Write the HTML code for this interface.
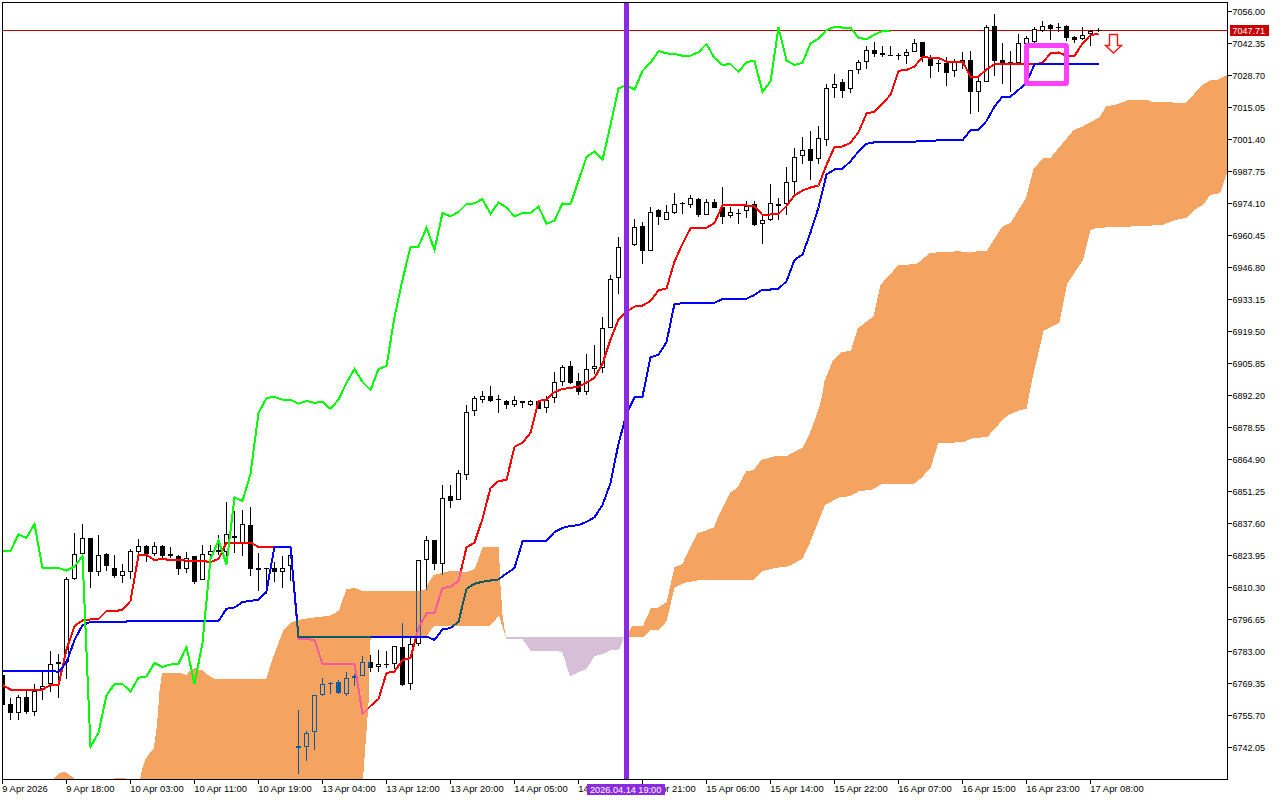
<!DOCTYPE html><html><head><meta charset="utf-8"><style>html,body{margin:0;padding:0;background:#fff;width:1280px;height:800px;overflow:hidden}svg{display:block}.t{font-family:"Liberation Sans",sans-serif;font-size:10px;fill:#000}</style></head><body>
<svg width="1280" height="800" viewBox="0 0 1280 800">
<rect x="0" y="0" width="1280" height="800" fill="#fff"/>
<defs><clipPath id="cl"><rect x="3" y="3" width="1224" height="776"/></clipPath></defs>
<g clip-path="url(#cl)" style="isolation:isolate"><rect x="0" y="0" width="1280" height="800" fill="#fff"/>
<rect x="3" y="30" width="1224" height="1" fill="#c80000"/>
<g fill="#000" shape-rendering="crispEdges"><rect x="2" y="675" width="1" height="30"/><rect x="0" y="675" width="5" height="30"/><rect x="10" y="698" width="1" height="22"/><rect x="8" y="704" width="5" height="9"/><rect x="18" y="695" width="1" height="25"/><rect x="16" y="697" width="5" height="16"/><rect x="17" y="698" width="3" height="14" fill="#fff"/><rect x="26" y="691" width="1" height="23"/><rect x="24" y="697" width="5" height="15"/><rect x="34" y="684" width="1" height="32"/><rect x="32" y="691" width="5" height="21"/><rect x="33" y="692" width="3" height="19" fill="#fff"/><rect x="42" y="670" width="1" height="30"/><rect x="40" y="686" width="5" height="3"/><rect x="41" y="687" width="3" height="1" fill="#fff"/><rect x="50" y="651" width="1" height="41"/><rect x="48" y="664" width="5" height="20"/><rect x="49" y="665" width="3" height="18" fill="#fff"/><rect x="58" y="654" width="1" height="44"/><rect x="56" y="662" width="5" height="2"/><rect x="66" y="577" width="1" height="102"/><rect x="64" y="579" width="5" height="83"/><rect x="65" y="580" width="3" height="81" fill="#fff"/><rect x="74" y="533" width="1" height="47"/><rect x="72" y="554" width="5" height="25"/><rect x="73" y="555" width="3" height="23" fill="#fff"/><rect x="82" y="524" width="1" height="32"/><rect x="80" y="538" width="5" height="16"/><rect x="81" y="539" width="3" height="14" fill="#fff"/><rect x="90" y="538" width="1" height="50"/><rect x="88" y="538" width="5" height="34"/><rect x="98" y="535" width="1" height="41"/><rect x="96" y="555" width="5" height="17"/><rect x="97" y="556" width="3" height="15" fill="#fff"/><rect x="106" y="553" width="1" height="18"/><rect x="104" y="554" width="5" height="12"/><rect x="114" y="555" width="1" height="23"/><rect x="112" y="568" width="5" height="8"/><rect x="122" y="564" width="1" height="19"/><rect x="120" y="571" width="5" height="5"/><rect x="121" y="572" width="3" height="3" fill="#fff"/><rect x="130" y="549" width="1" height="30"/><rect x="128" y="551" width="5" height="21"/><rect x="129" y="552" width="3" height="19" fill="#fff"/><rect x="138" y="539" width="1" height="16"/><rect x="136" y="546" width="5" height="6"/><rect x="137" y="547" width="3" height="4" fill="#fff"/><rect x="146" y="545" width="1" height="17"/><rect x="144" y="546" width="5" height="8"/><rect x="154" y="542" width="1" height="14"/><rect x="152" y="546" width="5" height="8"/><rect x="153" y="547" width="3" height="6" fill="#fff"/><rect x="162" y="545" width="1" height="13"/><rect x="160" y="546" width="5" height="10"/><rect x="170" y="547" width="1" height="11"/><rect x="168" y="554" width="5" height="2"/><rect x="178" y="555" width="1" height="20"/><rect x="176" y="556" width="5" height="13"/><rect x="186" y="552" width="1" height="21"/><rect x="184" y="558" width="5" height="11"/><rect x="185" y="559" width="3" height="9" fill="#fff"/><rect x="194" y="556" width="1" height="28"/><rect x="192" y="556" width="5" height="26"/><rect x="202" y="545" width="1" height="35"/><rect x="200" y="554" width="5" height="26"/><rect x="201" y="555" width="3" height="24" fill="#fff"/><rect x="210" y="545" width="1" height="11"/><rect x="208" y="551" width="5" height="4"/><rect x="209" y="552" width="3" height="2" fill="#fff"/><rect x="218" y="535" width="1" height="20"/><rect x="216" y="550" width="5" height="2"/><rect x="226" y="502" width="1" height="60"/><rect x="224" y="534" width="5" height="18"/><rect x="225" y="535" width="3" height="16" fill="#fff"/><rect x="234" y="511" width="1" height="42"/><rect x="232" y="536" width="5" height="2"/><rect x="242" y="510" width="1" height="46"/><rect x="240" y="524" width="5" height="20"/><rect x="241" y="525" width="3" height="18" fill="#fff"/><rect x="250" y="507" width="1" height="69"/><rect x="248" y="525" width="5" height="44"/><rect x="258" y="553" width="1" height="38"/><rect x="256" y="568" width="5" height="2"/><rect x="266" y="568" width="1" height="26"/><rect x="264" y="568" width="5" height="1"/><rect x="274" y="562" width="1" height="20"/><rect x="272" y="568" width="5" height="4"/><rect x="282" y="556" width="1" height="32"/><rect x="280" y="568" width="5" height="4"/><rect x="281" y="569" width="3" height="2" fill="#fff"/><rect x="290" y="554" width="1" height="27"/><rect x="288" y="555" width="5" height="11"/><rect x="289" y="556" width="3" height="9" fill="#fff"/><rect x="298" y="710" width="1" height="64"/><rect x="296" y="746" width="5" height="2"/><rect x="306" y="731" width="1" height="30"/><rect x="304" y="733" width="5" height="14"/><rect x="305" y="734" width="3" height="12" fill="#fff"/><rect x="314" y="695" width="1" height="55"/><rect x="312" y="695" width="5" height="37"/><rect x="313" y="696" width="3" height="35" fill="#fff"/><rect x="322" y="678" width="1" height="18"/><rect x="320" y="684" width="5" height="11"/><rect x="321" y="685" width="3" height="9" fill="#fff"/><rect x="330" y="682" width="1" height="12"/><rect x="328" y="683" width="5" height="1"/><rect x="338" y="680" width="1" height="14"/><rect x="336" y="682" width="5" height="11"/><rect x="346" y="672" width="1" height="24"/><rect x="344" y="678" width="5" height="16"/><rect x="345" y="679" width="3" height="14" fill="#fff"/><rect x="354" y="674" width="1" height="12"/><rect x="352" y="676" width="5" height="2"/><rect x="362" y="656" width="1" height="20"/><rect x="360" y="662" width="5" height="14"/><rect x="361" y="663" width="3" height="12" fill="#fff"/><rect x="370" y="655" width="1" height="17"/><rect x="368" y="662" width="5" height="6"/><rect x="378" y="650" width="1" height="22"/><rect x="376" y="664" width="5" height="3"/><rect x="377" y="665" width="3" height="1" fill="#fff"/><rect x="386" y="651" width="1" height="17"/><rect x="384" y="664" width="5" height="1"/><rect x="394" y="646" width="1" height="23"/><rect x="392" y="646" width="5" height="18"/><rect x="393" y="647" width="3" height="16" fill="#fff"/><rect x="402" y="623" width="1" height="63"/><rect x="400" y="647" width="5" height="38"/><rect x="410" y="636" width="1" height="54"/><rect x="408" y="644" width="5" height="40"/><rect x="409" y="645" width="3" height="38" fill="#fff"/><rect x="418" y="560" width="1" height="86"/><rect x="416" y="560" width="5" height="84"/><rect x="417" y="561" width="3" height="82" fill="#fff"/><rect x="426" y="536" width="1" height="54"/><rect x="424" y="540" width="5" height="20"/><rect x="425" y="541" width="3" height="18" fill="#fff"/><rect x="434" y="540" width="1" height="30"/><rect x="432" y="540" width="5" height="24"/><rect x="442" y="485" width="1" height="90"/><rect x="440" y="498" width="5" height="66"/><rect x="441" y="499" width="3" height="64" fill="#fff"/><rect x="450" y="485" width="1" height="23"/><rect x="448" y="496" width="5" height="5"/><rect x="458" y="470" width="1" height="30"/><rect x="456" y="473" width="5" height="27"/><rect x="457" y="474" width="3" height="25" fill="#fff"/><rect x="466" y="405" width="1" height="75"/><rect x="464" y="412" width="5" height="63"/><rect x="465" y="413" width="3" height="61" fill="#fff"/><rect x="474" y="396" width="1" height="20"/><rect x="472" y="398" width="5" height="13"/><rect x="473" y="399" width="3" height="11" fill="#fff"/><rect x="482" y="391" width="1" height="12"/><rect x="480" y="396" width="5" height="4"/><rect x="481" y="397" width="3" height="2" fill="#fff"/><rect x="490" y="386" width="1" height="16"/><rect x="488" y="396" width="5" height="5"/><rect x="498" y="395" width="1" height="18"/><rect x="496" y="399" width="5" height="1"/><rect x="506" y="400" width="1" height="9"/><rect x="504" y="401" width="5" height="4"/><rect x="514" y="396" width="1" height="11"/><rect x="512" y="400" width="5" height="5"/><rect x="513" y="401" width="3" height="3" fill="#fff"/><rect x="522" y="401" width="1" height="7"/><rect x="520" y="401" width="5" height="2"/><rect x="530" y="400" width="1" height="6"/><rect x="528" y="401" width="5" height="4"/><rect x="529" y="402" width="3" height="2" fill="#fff"/><rect x="538" y="400" width="1" height="9"/><rect x="536" y="401" width="5" height="8"/><rect x="546" y="396" width="1" height="17"/><rect x="544" y="400" width="5" height="8"/><rect x="545" y="401" width="3" height="6" fill="#fff"/><rect x="554" y="372" width="1" height="31"/><rect x="552" y="382" width="5" height="16"/><rect x="553" y="383" width="3" height="14" fill="#fff"/><rect x="562" y="365" width="1" height="21"/><rect x="560" y="367" width="5" height="15"/><rect x="561" y="368" width="3" height="13" fill="#fff"/><rect x="570" y="361" width="1" height="23"/><rect x="568" y="366" width="5" height="17"/><rect x="578" y="373" width="1" height="22"/><rect x="576" y="381" width="5" height="11"/><rect x="586" y="354" width="1" height="41"/><rect x="584" y="369" width="5" height="23"/><rect x="585" y="370" width="3" height="21" fill="#fff"/><rect x="594" y="345" width="1" height="29"/><rect x="592" y="366" width="5" height="3"/><rect x="593" y="367" width="3" height="1" fill="#fff"/><rect x="602" y="317" width="1" height="56"/><rect x="600" y="328" width="5" height="40"/><rect x="601" y="329" width="3" height="38" fill="#fff"/><rect x="610" y="275" width="1" height="53"/><rect x="608" y="279" width="5" height="49"/><rect x="609" y="280" width="3" height="47" fill="#fff"/><rect x="618" y="237" width="1" height="57"/><rect x="616" y="247" width="5" height="31"/><rect x="617" y="248" width="3" height="29" fill="#fff"/><rect x="634" y="219" width="1" height="27"/><rect x="632" y="227" width="5" height="18"/><rect x="633" y="228" width="3" height="16" fill="#fff"/><rect x="642" y="222" width="1" height="42"/><rect x="640" y="226" width="5" height="25"/><rect x="650" y="207" width="1" height="44"/><rect x="648" y="212" width="5" height="39"/><rect x="649" y="213" width="3" height="37" fill="#fff"/><rect x="658" y="209" width="1" height="16"/><rect x="656" y="210" width="5" height="7"/><rect x="666" y="205" width="1" height="15"/><rect x="664" y="212" width="5" height="8"/><rect x="665" y="213" width="3" height="6" fill="#fff"/><rect x="674" y="193" width="1" height="21"/><rect x="672" y="204" width="5" height="9"/><rect x="673" y="205" width="3" height="7" fill="#fff"/><rect x="682" y="202" width="1" height="12"/><rect x="680" y="203" width="5" height="1"/><rect x="690" y="195" width="1" height="13"/><rect x="688" y="198" width="5" height="7"/><rect x="689" y="199" width="3" height="5" fill="#fff"/><rect x="698" y="198" width="1" height="19"/><rect x="696" y="199" width="5" height="16"/><rect x="706" y="199" width="1" height="16"/><rect x="704" y="202" width="5" height="13"/><rect x="705" y="203" width="3" height="11" fill="#fff"/><rect x="714" y="199" width="1" height="9"/><rect x="712" y="202" width="5" height="6"/><rect x="722" y="187" width="1" height="37"/><rect x="720" y="207" width="5" height="10"/><rect x="730" y="207" width="1" height="11"/><rect x="728" y="212" width="5" height="4"/><rect x="729" y="213" width="3" height="2" fill="#fff"/><rect x="738" y="209" width="1" height="15"/><rect x="736" y="213" width="5" height="1"/><rect x="746" y="201" width="1" height="17"/><rect x="744" y="206" width="5" height="5"/><rect x="745" y="207" width="3" height="3" fill="#fff"/><rect x="754" y="201" width="1" height="25"/><rect x="752" y="204" width="5" height="21"/><rect x="762" y="215" width="1" height="29"/><rect x="760" y="220" width="5" height="4"/><rect x="761" y="221" width="3" height="2" fill="#fff"/><rect x="770" y="184" width="1" height="37"/><rect x="768" y="203" width="5" height="17"/><rect x="769" y="204" width="3" height="15" fill="#fff"/><rect x="778" y="198" width="1" height="22"/><rect x="776" y="204" width="5" height="2"/><rect x="786" y="167" width="1" height="48"/><rect x="784" y="182" width="5" height="22"/><rect x="785" y="183" width="3" height="20" fill="#fff"/><rect x="794" y="148" width="1" height="48"/><rect x="792" y="157" width="5" height="25"/><rect x="793" y="158" width="3" height="23" fill="#fff"/><rect x="802" y="137" width="1" height="27"/><rect x="800" y="150" width="5" height="6"/><rect x="801" y="151" width="3" height="4" fill="#fff"/><rect x="810" y="131" width="1" height="49"/><rect x="808" y="149" width="5" height="12"/><rect x="818" y="126" width="1" height="38"/><rect x="816" y="138" width="5" height="21"/><rect x="817" y="139" width="3" height="19" fill="#fff"/><rect x="826" y="84" width="1" height="62"/><rect x="824" y="88" width="5" height="52"/><rect x="825" y="89" width="3" height="50" fill="#fff"/><rect x="834" y="74" width="1" height="24"/><rect x="832" y="84" width="5" height="4"/><rect x="833" y="85" width="3" height="2" fill="#fff"/><rect x="842" y="79" width="1" height="19"/><rect x="840" y="82" width="5" height="9"/><rect x="850" y="70" width="1" height="23"/><rect x="848" y="70" width="5" height="19"/><rect x="849" y="71" width="3" height="17" fill="#fff"/><rect x="858" y="60" width="1" height="14"/><rect x="856" y="62" width="5" height="8"/><rect x="857" y="63" width="3" height="6" fill="#fff"/><rect x="866" y="46" width="1" height="23"/><rect x="864" y="50" width="5" height="12"/><rect x="865" y="51" width="3" height="10" fill="#fff"/><rect x="874" y="42" width="1" height="15"/><rect x="872" y="50" width="5" height="4"/><rect x="882" y="46" width="1" height="11"/><rect x="880" y="53" width="5" height="2"/><rect x="890" y="46" width="1" height="10"/><rect x="888" y="55" width="5" height="1"/><rect x="898" y="53" width="1" height="7"/><rect x="896" y="55" width="5" height="1"/><rect x="906" y="49" width="1" height="15"/><rect x="904" y="52" width="5" height="4"/><rect x="905" y="53" width="3" height="2" fill="#fff"/><rect x="914" y="39" width="1" height="13"/><rect x="912" y="43" width="5" height="9"/><rect x="913" y="44" width="3" height="7" fill="#fff"/><rect x="922" y="42" width="1" height="20"/><rect x="920" y="42" width="5" height="15"/><rect x="930" y="55" width="1" height="23"/><rect x="928" y="59" width="5" height="7"/><rect x="938" y="60" width="1" height="12"/><rect x="936" y="63" width="5" height="1"/><rect x="946" y="57" width="1" height="29"/><rect x="944" y="63" width="5" height="10"/><rect x="954" y="59" width="1" height="18"/><rect x="952" y="62" width="5" height="9"/><rect x="953" y="63" width="3" height="7" fill="#fff"/><rect x="962" y="52" width="1" height="17"/><rect x="960" y="60" width="5" height="3"/><rect x="970" y="51" width="1" height="63"/><rect x="968" y="60" width="5" height="32"/><rect x="978" y="75" width="1" height="37"/><rect x="976" y="81" width="5" height="11"/><rect x="977" y="82" width="3" height="9" fill="#fff"/><rect x="986" y="25" width="1" height="57"/><rect x="984" y="27" width="5" height="55"/><rect x="985" y="28" width="3" height="53" fill="#fff"/><rect x="994" y="14" width="1" height="62"/><rect x="992" y="26" width="5" height="35"/><rect x="1002" y="43" width="1" height="41"/><rect x="1000" y="60" width="5" height="5"/><rect x="1010" y="51" width="1" height="41"/><rect x="1008" y="62" width="5" height="3"/><rect x="1018" y="34" width="1" height="31"/><rect x="1016" y="43" width="5" height="20"/><rect x="1017" y="44" width="3" height="18" fill="#fff"/><rect x="1026" y="36" width="1" height="9"/><rect x="1024" y="38" width="5" height="6"/><rect x="1025" y="39" width="3" height="4" fill="#fff"/><rect x="1034" y="27" width="1" height="16"/><rect x="1032" y="29" width="5" height="13"/><rect x="1033" y="30" width="3" height="11" fill="#fff"/><rect x="1042" y="21" width="1" height="11"/><rect x="1040" y="26" width="5" height="5"/><rect x="1041" y="27" width="3" height="3" fill="#fff"/><rect x="1050" y="24" width="1" height="16"/><rect x="1048" y="25" width="5" height="4"/><rect x="1058" y="23" width="1" height="9"/><rect x="1056" y="27" width="5" height="1"/><rect x="1066" y="25" width="1" height="16"/><rect x="1064" y="26" width="5" height="12"/><rect x="1074" y="36" width="1" height="7"/><rect x="1072" y="37" width="5" height="3"/><rect x="1082" y="27" width="1" height="13"/><rect x="1080" y="35" width="5" height="4"/><rect x="1081" y="36" width="3" height="2" fill="#fff"/><rect x="1090" y="30" width="1" height="16"/><rect x="1088" y="31" width="5" height="3"/><rect x="1089" y="32" width="3" height="1" fill="#fff"/><rect x="1098" y="28" width="1" height="4"/><rect x="1096" y="30" width="5" height="1"/></g>
<polyline fill="none" stroke="#ff0000" stroke-width="2" stroke-linejoin="miter" shape-rendering="crispEdges" points="2.5,685 10.5,689.5 18.5,689.5 26.5,689.5 34.5,689.5 42.5,689.5 50.5,685 58.5,685 66.5,649.5 74.5,626 82.5,620.5 90.5,619.5 98.5,619 106.5,611 114.5,611 122.5,610 130.5,601 138.5,555 146.5,555 154.5,560 162.5,559 170.5,560 178.5,560 186.5,560.6 194.5,561 202.5,561 210.5,562 218.5,559 226.5,542.5 234.5,542.5 242.5,542.5 250.5,542.5 258.5,547 266.5,547 274.5,547 282.5,547 290.5,547 298.5,639 306.5,639.3 314.5,639.75 322.5,663.75 330.5,663.75 338.5,663.75 346.5,663.75 354.5,663.75 362.5,714 370.5,706 378.5,699 386.5,673 394.5,671.6 402.5,660 410.5,658 418.5,628 426.5,613.5 434.5,613 442.5,588 450.5,587 458.5,581 466.5,547.5 474.5,542.5 482.5,518.75 490.5,488 498.5,481 506.5,480 514.5,446.9 522.5,442.75 530.5,432.8 538.5,401 546.5,399.6 554.5,392 562.5,389 570.5,387.8 578.5,386.9 586.5,382.5 594.5,377.8 602.5,363.75 610.5,339.4 618.5,319.7 626.5,311.6 634.5,306.6 642.5,305.6 650.5,301 658.5,290.25 666.5,288.4 674.5,261.6 682.5,243.75 690.5,228.4 698.5,227.8 706.5,227.8 714.5,223 722.5,205.3 730.5,204.75 738.5,205 746.5,205.5 754.5,206.25 762.5,215 770.5,214.5 778.5,214 786.5,206 794.5,195.5 802.5,190.5 810.5,187.5 818.5,185.5 826.5,165 834.5,147 842.5,146.5 850.5,142.75 858.5,132.25 866.5,113.5 874.5,111.7 882.5,103.75 890.5,94.75 898.5,70.75 906.5,70 914.5,66.5 922.5,57 930.5,57.7 938.5,58 946.5,61.56 954.5,61.56 962.5,61.56 970.5,76.7 978.5,76.7 986.5,69.4 994.5,64.3 1002.5,64 1010.5,64 1018.5,64.2 1026.5,64.2 1034.5,64.2 1042.5,62.9 1050.5,53.3 1058.5,52.5 1066.5,55.6 1074.5,55.9 1082.5,43.5 1090.5,35 1098.5,33.85"/>
<polyline fill="none" stroke="#0000ff" stroke-width="2" stroke-linejoin="miter" shape-rendering="crispEdges" points="2.5,670.5 10.5,670.5 18.5,670.5 26.5,670.5 34.5,670.5 42.5,670.5 50.5,670.5 58.5,672 66.5,662.5 74.5,640 82.5,625 90.5,622 98.5,622 106.5,622 114.5,622 122.5,622 130.5,621 138.5,621 146.5,621 154.5,621 162.5,621 170.5,621 178.5,621 186.5,621 194.5,621 202.5,621 210.5,621 218.5,621 226.5,608.75 234.5,607.5 242.5,602 250.5,600.75 258.5,600 266.5,591 274.5,547 282.5,547 290.5,547 298.5,636.5 306.5,636.5 314.5,636.5 322.5,636.5 330.5,636.5 338.5,636.5 346.5,636.5 354.5,636.5 362.5,636.5 370.5,636.5 378.5,636.5 386.5,636.5 394.5,636.5 402.5,636.5 410.5,636.5 418.5,636.5 426.5,636.5 434.5,640 442.5,629.5 450.5,628 458.5,622 466.5,588.75 474.5,583.75 482.5,581.75 490.5,580.5 498.5,579.5 506.5,573.5 514.5,568 522.5,541.5 530.5,541 538.5,541 546.5,541 554.5,532 562.5,527.9 570.5,526 578.5,525.1 586.5,521.85 594.5,517.3 602.5,505 610.5,483 618.5,443.75 626.5,414 634.5,397.5 642.5,396.6 650.5,357.2 658.5,354.75 666.5,342.2 674.5,303.75 682.5,303.4 690.5,302.8 698.5,302.8 706.5,302.8 714.5,302.8 722.5,299 730.5,298.6 738.5,298.75 746.5,298.75 754.5,295 762.5,289.5 770.5,289.5 778.5,288.75 786.5,281.25 794.5,260 802.5,254.5 810.5,232.5 818.5,207.5 826.5,174.5 834.5,169.5 842.5,168.75 850.5,161.25 858.5,151.5 866.5,143.8 874.5,142.3 882.5,142.3 890.5,142.3 898.5,142.3 906.5,142.3 914.5,141.7 922.5,140.8 930.5,140.8 938.5,140.4 946.5,140.4 954.5,140.4 962.5,140.4 970.5,130 978.5,130 986.5,121 994.5,106.5 1002.5,96.6 1010.5,96.6 1018.5,89.9 1026.5,82.9 1034.5,64.2 1042.5,64.2 1050.5,64.2 1058.5,64.2 1066.5,64.2 1074.5,64.2 1082.5,64.2 1090.5,64.2 1098.5,64.2"/>
<g style="mix-blend-mode:difference" shape-rendering="crispEdges"><polygon fill="rgb(11,91,159)" points="54,779 60.2,772.8 65.7,772 75,779"/><polygon fill="rgb(11,91,159)" points="114,779 115,777.5 125.5,777.5 126.5,779"/><polygon fill="rgb(11,91,159)" points="140,779 142.3,768.4 145.6,759 148.9,754.2 153.8,748.2 154.9,740 157,725 159.6,690 162.25,672.5 180,673 184.5,674 186.4,675 189.75,671 194.6,668 198.75,669.6 202,670 210,676.75 216,679.4 265,679.5 267,677.25 271.5,661.5 276,649.5 283.5,630 291,622.5 297.75,620 312,617.7 330,615.75 339,610.5 346.5,588.75 355.5,588.3 361.5,590.5 374.25,591 414.5,591.4 425,590 430.2,580 433.75,575 450,571 460,571 466,572.5 475,568.75 482.5,547.5 499,547 500,578.5 502.5,615 505.75,637 499,615.6 490,625.75 433.75,626.4 426.75,636 370.75,636 369.9,650 368.75,700 363,779"/><polygon fill="rgb(11,91,159)" points="628,637 628.5,633 630,629.5 632,626.5 634,625.75 643,625.75 651,608 657.6,608 666.6,602 674.5,567.25 682.4,563.9 697,533.5 700,532.5 713.75,527.5 720,512.5 730,492.5 737.5,487.5 746.25,471.25 753.75,470 761.25,460 775,456.25 787.5,455.5 802.5,447.5 810,432.5 817.5,412.5 821.25,400 824.5,381 833,360 842,352 850.75,351 857.75,328.5 873.5,316.25 880.5,284.75 898,265.5 917,263.75 929.5,253.25 940,252 959,251.3 969.75,252.6 977.2,251.3 986.75,250.9 1001.6,227.5 1011.2,222.2 1026,197.75 1033.5,169 1043,158.4 1050.5,157.8 1073.9,129.75 1082.4,126.6 1100,117 1106,106 1115,105 1130,99.5 1147.5,100 1152.5,102 1172.5,102.5 1186,102.5 1202.5,85 1210,80.5 1217.5,80 1227,75 1227,172.5 1220,193 1210,195 1204,204 1196,209 1186,218 1175,220 1162.5,225 1120,227 1096,227.8 1090.3,230.5 1083,259.9 1067.25,283.5 1059.4,322.9 1043.6,330.7 1032,380 1028.25,399.5 1026.75,408.5 1018.5,410.75 1009.5,414.5 1003.5,419 987,437.3 974.25,437.75 969.75,439.25 963,442.25 938.25,443 932.25,462.5 930.75,467.75 921,478.25 914.25,483.5 882.5,483.75 872.5,489.5 858.75,491.25 850,496.25 840,497 825,505 810,542.5 802.5,558.75 788.75,566.25 775,568 762.5,571.25 753.75,580 700,580 696,580.75 683.5,583 674.5,587.5 666.6,621.25 658.75,629.8 651,629.8 643,637"/><polygon fill="rgb(39,64,39)" points="505.75,637 624,637 619.4,649.4 611.5,650 602.5,654 594.6,656 586.75,668.5 570,676.4 562,651.6 530.5,650.5 522.6,639.25 505.75,639.25"/></g>
</g>
<g clip-path="url(#cl)">
<polyline fill="none" stroke="#00ff00" stroke-width="2" stroke-linejoin="miter" shape-rendering="crispEdges" points="2.5,551 10.5,551 18.5,534.5 26.5,538 34.5,524 42.5,568 50.5,568 58.5,568 66.5,570.6 74.5,566.5 82.5,556 90.5,747 98.5,732.5 106.5,695.25 114.5,684 122.5,684 130.5,691.75 138.5,677.75 146.5,676.35 154.5,662.9 162.5,666.9 170.5,664.6 178.5,663.75 186.5,647 194.5,684 202.5,643 210.5,559 218.5,540.6 226.5,564.4 234.5,497.5 242.5,501 250.5,474 258.5,413 266.5,398 274.5,397 282.5,399.6 290.5,399.6 298.5,403.75 306.5,401 314.5,402.8 322.5,401.9 330.5,409 338.5,399.6 346.5,383 354.5,369 362.5,382 370.5,390 378.5,369 386.5,366 394.5,317 402.5,279.75 410.5,247 418.5,246.6 426.5,227.75 434.5,249.8 442.5,213 450.5,216.4 458.5,212 466.5,204 474.5,203.4 482.5,199 490.5,214 498.5,202.4 506.5,207.6 514.5,216.4 522.5,213 530.5,213 538.5,206.6 546.5,223.8 554.5,220.6 562.5,203.4 570.5,204.4 578.5,180.6 586.5,157 594.5,151.4 602.5,160 610.5,125 618.5,88.5 626.5,85 634.5,89.7 642.5,71 650.5,62.7 658.5,51 666.5,53.4 674.5,54 682.5,55.7 690.5,55.7 698.5,52.2 706.5,44 714.5,58 722.5,65 730.5,64 738.5,72 746.5,62 754.5,61 762.5,92 770.5,81.5 778.5,27.6 786.5,60.4 794.5,65 802.5,62.7 810.5,43.3 818.5,38.6 826.5,30 834.5,26.9 842.5,27.6 850.5,27.6 858.5,37.7 866.5,39.3 874.5,34.6 882.5,31 890.5,30.6"/>
<rect x="624" y="3" width="5" height="776" fill="#8a2be2"/>
<rect x="1026.5" y="45.5" width="40" height="38" fill="none" stroke="#ff40ff" stroke-width="5" rx="1"/>
<path d="M1109.5,34.5 H1117.5 V45.5 H1121.5 L1113.5,53 L1105.5,45.5 H1109.5 Z" fill="none" stroke="#ff1010" stroke-width="1.4" stroke-linejoin="miter"/>
</g>
<g fill="#000" shape-rendering="crispEdges">
<rect x="2" y="2" width="1226" height="1"/>
<rect x="2" y="2" width="1" height="778"/>
<rect x="2" y="779" width="1226" height="1"/>
<rect x="1227" y="2" width="1" height="778"/>
<rect x="1228" y="11" width="4" height="1"/>
<rect x="1228" y="43" width="4" height="1"/>
<rect x="1228" y="75" width="4" height="1"/>
<rect x="1228" y="107" width="4" height="1"/>
<rect x="1228" y="139" width="4" height="1"/>
<rect x="1228" y="171" width="4" height="1"/>
<rect x="1228" y="203" width="4" height="1"/>
<rect x="1228" y="235" width="4" height="1"/>
<rect x="1228" y="267" width="4" height="1"/>
<rect x="1228" y="299" width="4" height="1"/>
<rect x="1228" y="331" width="4" height="1"/>
<rect x="1228" y="363" width="4" height="1"/>
<rect x="1228" y="395" width="4" height="1"/>
<rect x="1228" y="427" width="4" height="1"/>
<rect x="1228" y="459" width="4" height="1"/>
<rect x="1228" y="491" width="4" height="1"/>
<rect x="1228" y="523" width="4" height="1"/>
<rect x="1228" y="555" width="4" height="1"/>
<rect x="1228" y="587" width="4" height="1"/>
<rect x="1228" y="619" width="4" height="1"/>
<rect x="1228" y="651" width="4" height="1"/>
<rect x="1228" y="683" width="4" height="1"/>
<rect x="1228" y="715" width="4" height="1"/>
<rect x="1228" y="747" width="4" height="1"/>
<rect x="2" y="780" width="1" height="4"/>
<rect x="66" y="780" width="1" height="4"/>
<rect x="130" y="780" width="1" height="4"/>
<rect x="194" y="780" width="1" height="4"/>
<rect x="258" y="780" width="1" height="4"/>
<rect x="322" y="780" width="1" height="4"/>
<rect x="386" y="780" width="1" height="4"/>
<rect x="450" y="780" width="1" height="4"/>
<rect x="514" y="780" width="1" height="4"/>
<rect x="578" y="780" width="1" height="4"/>
<rect x="642" y="780" width="1" height="4"/>
<rect x="706" y="780" width="1" height="4"/>
<rect x="770" y="780" width="1" height="4"/>
<rect x="834" y="780" width="1" height="4"/>
<rect x="898" y="780" width="1" height="4"/>
<rect x="962" y="780" width="1" height="4"/>
<rect x="1026" y="780" width="1" height="4"/>
<rect x="1090" y="780" width="1" height="4"/>
</g>
<g class="t">
<text transform="translate(1232.5,14.7) scale(0.94,1)" style="font-size:9.6px">7056.00</text>
<text transform="translate(1232.5,46.7) scale(0.94,1)" style="font-size:9.6px">7042.35</text>
<text transform="translate(1232.5,78.7) scale(0.94,1)" style="font-size:9.6px">7028.70</text>
<text transform="translate(1232.5,110.7) scale(0.94,1)" style="font-size:9.6px">7015.05</text>
<text transform="translate(1232.5,142.7) scale(0.94,1)" style="font-size:9.6px">7001.40</text>
<text transform="translate(1232.5,174.7) scale(0.94,1)" style="font-size:9.6px">6987.75</text>
<text transform="translate(1232.5,206.7) scale(0.94,1)" style="font-size:9.6px">6974.10</text>
<text transform="translate(1232.5,238.7) scale(0.94,1)" style="font-size:9.6px">6960.45</text>
<text transform="translate(1232.5,270.7) scale(0.94,1)" style="font-size:9.6px">6946.80</text>
<text transform="translate(1232.5,302.7) scale(0.94,1)" style="font-size:9.6px">6933.15</text>
<text transform="translate(1232.5,334.7) scale(0.94,1)" style="font-size:9.6px">6919.50</text>
<text transform="translate(1232.5,366.7) scale(0.94,1)" style="font-size:9.6px">6905.85</text>
<text transform="translate(1232.5,398.7) scale(0.94,1)" style="font-size:9.6px">6892.20</text>
<text transform="translate(1232.5,430.7) scale(0.94,1)" style="font-size:9.6px">6878.55</text>
<text transform="translate(1232.5,462.7) scale(0.94,1)" style="font-size:9.6px">6864.90</text>
<text transform="translate(1232.5,494.7) scale(0.94,1)" style="font-size:9.6px">6851.25</text>
<text transform="translate(1232.5,526.7) scale(0.94,1)" style="font-size:9.6px">6837.60</text>
<text transform="translate(1232.5,558.7) scale(0.94,1)" style="font-size:9.6px">6823.95</text>
<text transform="translate(1232.5,590.7) scale(0.94,1)" style="font-size:9.6px">6810.30</text>
<text transform="translate(1232.5,622.7) scale(0.94,1)" style="font-size:9.6px">6796.65</text>
<text transform="translate(1232.5,654.7) scale(0.94,1)" style="font-size:9.6px">6783.00</text>
<text transform="translate(1232.5,686.7) scale(0.94,1)" style="font-size:9.6px">6769.35</text>
<text transform="translate(1232.5,718.7) scale(0.94,1)" style="font-size:9.6px">6755.70</text>
<text transform="translate(1232.5,750.7) scale(0.94,1)" style="font-size:9.6px">6742.05</text>
<text transform="translate(2.3,792) scale(0.98,1)" style="font-size:9.6px">9 Apr 2026</text>
<text transform="translate(66.3,792) scale(0.98,1)" style="font-size:9.6px">9 Apr 18:00</text>
<text transform="translate(130.3,792) scale(0.98,1)" style="font-size:9.6px">10 Apr 03:00</text>
<text transform="translate(194.3,792) scale(0.98,1)" style="font-size:9.6px">10 Apr 11:00</text>
<text transform="translate(258.3,792) scale(0.98,1)" style="font-size:9.6px">10 Apr 19:00</text>
<text transform="translate(322.3,792) scale(0.98,1)" style="font-size:9.6px">13 Apr 04:00</text>
<text transform="translate(386.3,792) scale(0.98,1)" style="font-size:9.6px">13 Apr 12:00</text>
<text transform="translate(450.3,792) scale(0.98,1)" style="font-size:9.6px">13 Apr 20:00</text>
<text transform="translate(514.3,792) scale(0.98,1)" style="font-size:9.6px">14 Apr 05:00</text>
<text transform="translate(578.3,792) scale(0.98,1)" style="font-size:9.6px">14 Apr 13:00</text>
<text transform="translate(642.3,792) scale(0.98,1)" style="font-size:9.6px">14 Apr 21:00</text>
<text transform="translate(706.3,792) scale(0.98,1)" style="font-size:9.6px">15 Apr 06:00</text>
<text transform="translate(770.3,792) scale(0.98,1)" style="font-size:9.6px">15 Apr 14:00</text>
<text transform="translate(834.3,792) scale(0.98,1)" style="font-size:9.6px">15 Apr 22:00</text>
<text transform="translate(898.3,792) scale(0.98,1)" style="font-size:9.6px">16 Apr 07:00</text>
<text transform="translate(962.3,792) scale(0.98,1)" style="font-size:9.6px">16 Apr 15:00</text>
<text transform="translate(1026.3,792) scale(0.98,1)" style="font-size:9.6px">16 Apr 23:00</text>
<text transform="translate(1090.3,792) scale(0.98,1)" style="font-size:9.6px">17 Apr 08:00</text>
</g>
<rect x="1230" y="25" width="39" height="11" fill="#c80000"/>
<text class="t" transform="translate(1232.5,34) scale(0.94,1)" style="fill:#fff;font-size:9.6px">7047.71</text>
<rect x="587" y="784" width="78" height="11" fill="#8a2be2"/>
<text class="t" transform="translate(590,793) scale(0.955,1)" style="fill:#fff;font-size:9.6px">2026.04.14 19:00</text>
</svg></body></html>
